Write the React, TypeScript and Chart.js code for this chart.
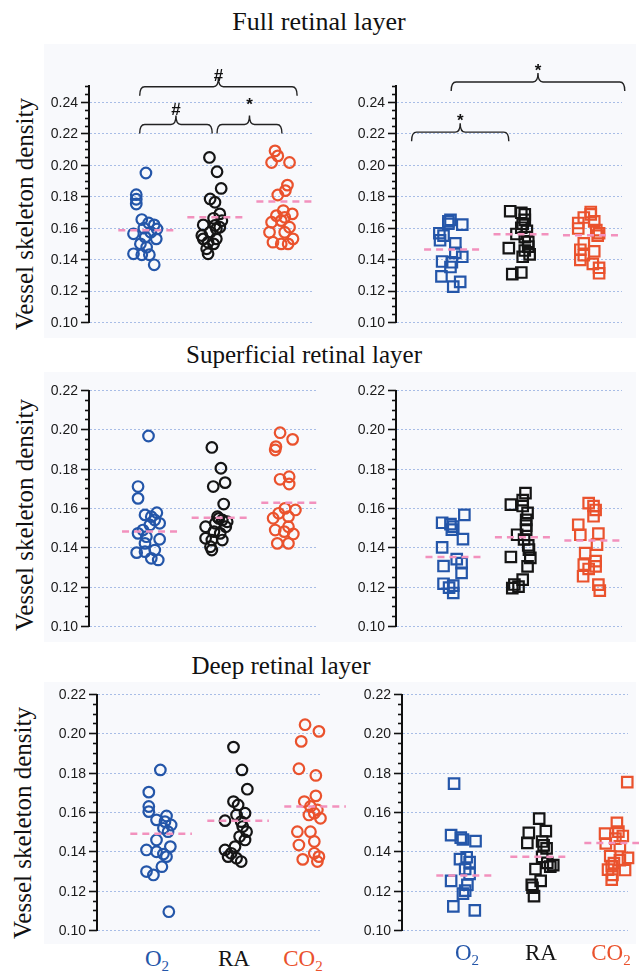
import React, { useEffect, useRef } from 'react';
import { Chart, registerables } from 'chart.js';

Chart.register(...registerables);

// ---------- categories, colours, ticks ----------
const groups = ['O2', 'RA', 'CO2'];
const groupColors = ['#2456a9', '#151515', '#ea522d'];
const meanColor = '#f291bd';
const yTicksFull = [0.1, 0.12, 0.14, 0.16, 0.18, 0.2, 0.22, 0.24];
const yTicksLayer = [0.1, 0.12, 0.14, 0.16, 0.18, 0.2, 0.22];
const minorStep = 0.005;
const yAxisTitle = 'Vessel skeleton density';
const rowTitles = ['Full retinal layer', 'Superficial retinal layer', 'Deep retinal layer'];

// ---------- Full retinal layer (circles) ----------
const fullCircO2 = [0.1948, 0.181, 0.1781, 0.1751, 0.1652, 0.163, 0.1618, 0.1592, 0.1597, 0.1561, 0.1571, 0.1529, 0.154, 0.1497, 0.1434, 0.1428, 0.1428, 0.1364, 0.1476];
const fullCircO2Jit = [0, -0.14, -0.14, -0.14, -0.06, 0.04, 0.12, 0.16, -0.03, -0.18, 0.07, 0.15, -0.01, -0.08, -0.18, -0.06, 0.05, 0.12, 0.01];
const fullCircRA = [0.2047, 0.1956, 0.185, 0.1783, 0.1762, 0.1688, 0.1645, 0.166, 0.1614, 0.1618, 0.1603, 0.1571, 0.155, 0.1529, 0.1529, 0.1508, 0.1497, 0.1466, 0.1434, 0.1592];
const fullCircRAJit = [-0.08, 0.03, 0.09, -0.07, 0, 0.07, 0.1, -0.02, 0, -0.17, 0.07, -0.07, -0.19, -0.17, 0.02, -0.1, -0.02, -0.12, -0.1, 0.02];
const fullCircCO2 = [0.2089, 0.2057, 0.2015, 0.2015, 0.1871, 0.1836, 0.1808, 0.1709, 0.1688, 0.1677, 0.1666, 0.1645, 0.1635, 0.1603, 0.1571, 0.1571, 0.1529, 0.1508, 0.1497, 0.1497];
const fullCircCO2Jit = [-0.13, -0.09, -0.18, 0.08, 0.05, 0.02, -0.09, -0.01, 0.12, -0.11, 0.01, -0.04, -0.18, 0.08, -0.21, 0.01, 0.13, -0.16, -0.04, 0.06];
const fullCircMeans = [0.1584, 0.1666, 0.1766];

// ---------- Full retinal layer (squares) ----------
const fullSqO2 = [0.165, 0.164, 0.162, 0.1625, 0.1565, 0.155, 0.152, 0.15, 0.144, 0.1415, 0.1385, 0.138, 0.135, 0.129, 0.1255, 0.1225];
const fullSqO2Jit = [-0.02, -0.05, 0.15, -0.05, -0.18, -0.12, -0.17, 0.05, 0.05, 0.15, -0.14, 0, -0.02, -0.15, 0.12, 0.02];
const fullSqRA = [0.1705, 0.1695, 0.1685, 0.165, 0.1625, 0.16, 0.158, 0.156, 0.154, 0.151, 0.148, 0.147, 0.1455, 0.143, 0.1415, 0.1315, 0.1305];
const fullSqRAJit = [-0.16, 0, 0.05, 0.05, 0.02, 0, 0.08, -0.07, 0.05, 0.1, 0.1, -0.18, 0.05, 0.12, 0.02, 0, -0.13];
const fullSqCO2 = [0.17, 0.1685, 0.1665, 0.164, 0.163, 0.1595, 0.1585, 0.1565, 0.155, 0.15, 0.146, 0.145, 0.1425, 0.1395, 0.137, 0.1345, 0.131];
const fullSqCO2Jit = [0, 0, -0.1, 0.05, -0.18, -0.18, 0.08, 0.12, 0.1, -0.1, -0.15, 0.05, -0.1, -0.15, 0.03, 0.12, 0.12];
const fullSqMeans = [0.1461, 0.1558, 0.1552];

// ---------- Superficial retinal layer (circles) ----------
const supCircO2 = [0.1966, 0.1709, 0.1649, 0.1565, 0.1576, 0.1556, 0.1522, 0.1539, 0.1514, 0.1471, 0.1454, 0.1441, 0.142, 0.1373, 0.1378, 0.1386, 0.1344, 0.1336, 0.1488];
const supCircO2Jit = [-0.02, -0.17, -0.17, -0.07, 0.1, 0.02, 0.14, 0.07, 0, -0.17, -0.05, 0.14, -0.07, -0.19, -0.07, 0.07, 0.02, 0.12, -0.1];
const supCircRA = [0.1908, 0.1802, 0.1709, 0.1729, 0.162, 0.1556, 0.1539, 0.153, 0.1522, 0.1505, 0.148, 0.1471, 0.1446, 0.1437, 0.1437, 0.1403, 0.1386, 0.1547, 0.1505];
const supCircRAJit = [-0.11, 0.02, -0.09, 0.08, 0.06, -0.03, 0.04, 0.11, -0.06, -0.2, -0.08, 0.01, -0.2, -0.11, 0.04, -0.13, -0.11, -0.01, 0.09];
const supCircCO2 = [0.1983, 0.1949, 0.1912, 0.1895, 0.1746, 0.1759, 0.1722, 0.159, 0.1598, 0.1573, 0.1548, 0.1556, 0.1488, 0.1505, 0.1468, 0.148, 0.142, 0.142];
const supCircCO2Jit = [-0.13, 0.05, -0.19, -0.2, -0.13, 0, 0, 0.09, -0.06, -0.15, -0.23, -0.01, -0.2, -0.01, 0.06, -0.07, -0.17, -0.01];
const supCircMeans = [0.148, 0.1551, 0.1627];

// ---------- Superficial retinal layer (squares) ----------
const supSqO2 = [0.1565, 0.1525, 0.1518, 0.1505, 0.149, 0.1442, 0.14, 0.134, 0.132, 0.1305, 0.127, 0.1215, 0.1205, 0.1195, 0.1168];
const supSqO2Jit = [0.16, -0.16, -0.04, 0, -0.02, 0.14, -0.16, 0.05, 0.12, -0.14, 0.12, -0.14, 0, -0.06, 0];
const supSqRA = [0.1676, 0.164, 0.1617, 0.161, 0.1575, 0.154, 0.151, 0.149, 0.1464, 0.144, 0.141, 0.1388, 0.1351, 0.1346, 0.1303, 0.1236, 0.1211, 0.12, 0.1193];
const supSqRAJit = [0.04, 0, -0.17, 0, 0.07, 0.05, 0.05, 0.05, -0.08, 0.02, 0.08, 0.09, -0.17, 0.11, 0.07, 0, -0.12, -0.06, -0.15];
const supSqCO2 = [0.1625, 0.161, 0.159, 0.1558, 0.1515, 0.147, 0.1464, 0.1414, 0.1371, 0.133, 0.1312, 0.1303, 0.129, 0.1253, 0.121, 0.118];
const supSqCO2Jit = [-0.05, 0.02, 0.05, 0.02, -0.2, 0.09, -0.17, 0.07, -0.1, 0.05, -0.12, 0.05, -0.05, -0.13, 0.09, 0.11];
const supSqMeans = [0.1351, 0.1451, 0.1435];

// ---------- Deep retinal layer (circles) ----------
const deepCircO2 = [0.1814, 0.1701, 0.1628, 0.1602, 0.156, 0.158, 0.1551, 0.1534, 0.1517, 0.15, 0.1458, 0.1424, 0.1407, 0.1398, 0.1386, 0.1373, 0.1322, 0.1297, 0.128, 0.1093];
const deepCircO2Jit = [-0.01, -0.16, -0.16, -0.16, -0.06, 0.07, 0.05, 0.13, 0.03, 0.09, -0.06, 0.12, -0.19, -0.06, 0.03, 0.07, 0.01, -0.19, -0.1, 0.1];
const deepCircRA = [0.193, 0.1814, 0.1716, 0.1653, 0.1636, 0.1556, 0.1594, 0.1585, 0.1551, 0.1526, 0.15, 0.1475, 0.1458, 0.1407, 0.139, 0.1373, 0.1365, 0.1348, 0.1424];
const deepCircRAJit = [-0.06, 0.05, 0.12, -0.06, 0, -0.17, 0.09, -0.02, 0.04, 0.06, 0.11, 0.02, 0.09, -0.17, -0.09, -0.13, -0.02, 0.04, -0.04];
const deepCircCO2 = [0.2044, 0.201, 0.1959, 0.182, 0.1786, 0.1682, 0.1653, 0.1628, 0.1611, 0.1585, 0.1568, 0.1594, 0.15, 0.15, 0.145, 0.1432, 0.139, 0.1359, 0.1373, 0.1348];
const deepCircCO2Jit = [-0.13, 0.05, -0.18, -0.21, 0.01, 0.01, -0.14, -0.06, 0.03, -0.08, 0.07, -0.01, -0.23, -0.06, -0.01, -0.21, -0.01, -0.16, 0.05, 0.03];
const deepCircMeans = [0.1489, 0.1555, 0.1628];

// ---------- Deep retinal layer (squares) ----------
const deepSqO2 = [0.1744, 0.1482, 0.147, 0.146, 0.1452, 0.137, 0.136, 0.1345, 0.131, 0.1285, 0.125, 0.123, 0.12, 0.1185, 0.112, 0.11];
const deepSqO2Jit = [-0.16, -0.2, -0.07, -0.04, 0.13, 0.01, -0.08, 0.05, -0.01, 0.05, -0.2, 0.02, -0.01, -0.04, -0.17, 0.12];
const deepSqRA = [0.1566, 0.1503, 0.1494, 0.145, 0.1443, 0.143, 0.1415, 0.1372, 0.1341, 0.133, 0.1322, 0.131, 0.125, 0.123, 0.1215, 0.1172];
const deepSqRAJit = [-0.01, 0.08, -0.15, 0.03, -0.17, 0.05, 0.09, 0.03, 0.1, 0.18, 0.14, -0.06, 0.01, -0.11, -0.1, -0.08];
const deepSqCO2 = [0.1752, 0.1545, 0.15, 0.149, 0.1478, 0.1465, 0.144, 0.1426, 0.1375, 0.1367, 0.1355, 0.134, 0.1325, 0.1307, 0.1305, 0.128, 0.1256];
const deepSqCO2Jit = [0.18, 0.04, 0.06, -0.12, 0.12, 0.02, -0.11, 0.08, -0.05, 0.19, 0.08, 0, -0.03, -0.08, 0.15, -0.02, -0.03];
const deepSqMeans = [0.1277, 0.1372, 0.1442];

type Bracket = { x1: number; x2: number; y: number; label: string; gap: number };
type Box = [number, number, number, number];

type PanelProps = {
  canvasBox: Box;
  area: Box;
  xMin: number;
  xMax: number;
  yMax: number;
  yTicks: number[];
  values: number[][];
  jitter: number[][];
  means: number[];
  square: boolean;
  brackets?: Bracket[];
};

const SANS = '"Liberation Sans", Arial, Helvetica, sans-serif';
const SERIF = '"Liberation Serif", "Times New Roman", Times, serif';

function Panel(p: PanelProps) {
  const ref = useRef<HTMLCanvasElement>(null);
  const [cl, ct, cr, cb] = p.canvasBox;
  const [al, at, ar, ab] = p.area;
  useEffect(() => {
    const datasets: any[] = [];
    p.values.forEach((vals, g) => {
      datasets.push({
        data: vals.map((v, i) => ({ x: g + p.jitter[g][i], y: v })),
        pointStyle: p.square ? 'rect' : 'circle',
        pointRadius: p.square ? 7.4 : 5.3,
        pointBorderWidth: 2.2,
        pointBorderColor: groupColors[g],
        pointBackgroundColor: 'rgba(0,0,0,0)',
        borderColor: groupColors[g],
        backgroundColor: 'rgba(0,0,0,0)',
        showLine: false,
        clip: false,
        order: 2,
      });
    });
    p.means.forEach((m, g) => {
      datasets.push({
        data: [
          { x: g - 0.4, y: m },
          { x: g + 0.4, y: m },
        ],
        showLine: true,
        borderColor: meanColor,
        borderWidth: 2.5,
        borderDash: [7, 5],
        pointRadius: 0,
        clip: false,
        order: 1,
      });
    });

    const axisPlugin = {
      id: 'axisPlugin',
      beforeDatasetsDraw(chart: any) {
        const ctx = chart.ctx;
        const ys = chart.scales.y;
        const a = chart.chartArea;
        ctx.save();
        ctx.strokeStyle = '#a8bde6';
        ctx.lineWidth = 1;
        ctx.setLineDash([2, 2]);
        p.yTicks.forEach((t) => {
          const py = Math.round(ys.getPixelForValue(t)) + 0.5;
          ctx.beginPath();
          ctx.moveTo(a.left, py);
          ctx.lineTo(a.right, py);
          ctx.stroke();
        });
        ctx.restore();
      },
      afterDraw(chart: any) {
        const ctx = chart.ctx;
        const ys = chart.scales.y;
        const xs = chart.scales.x;
        const a = chart.chartArea;
        ctx.save();
        ctx.setLineDash([]);
        ctx.strokeStyle = '#111';
        // axis line
        ctx.lineWidth = 2;
        ctx.beginPath();
        ctx.moveTo(a.left - 1, a.top);
        ctx.lineTo(a.left - 1, a.bottom + 1);
        ctx.stroke();
        // ticks
        ctx.lineWidth = 1.6;
        const n = Math.floor((p.yMax - 0.1) / minorStep + 1e-6);
        for (let k = 0; k <= n; k++) {
          const v = 0.1 + k * minorStep;
          const py = Math.round(ys.getPixelForValue(v)) + 0.5;
          const len = k % 4 === 0 ? 8 : 4;
          ctx.beginPath();
          ctx.moveTo(a.left - 1, py);
          ctx.lineTo(a.left - 1 - len, py);
          ctx.stroke();
        }
        // labels
        ctx.fillStyle = '#1a1a1a';
        ctx.font = '14px ' + SANS;
        ctx.textAlign = 'right';
        ctx.textBaseline = 'middle';
        p.yTicks.forEach((t) => {
          ctx.fillText(t.toFixed(2), a.left - 12, ys.getPixelForValue(t) + 1);
        });
        // significance brackets
        (p.brackets || []).forEach((b) => {
          const x1 = xs.getPixelForValue(b.x1);
          const x2 = xs.getPixelForValue(b.x2);
          const yl = ys.getPixelForValue(b.y);
          const mid = (x1 + x2) / 2;
          const r = 5;
          ctx.strokeStyle = '#222';
          ctx.lineWidth = 1.4;
          ctx.beginPath();
          ctx.moveTo(x1, yl + 9);
          ctx.quadraticCurveTo(x1, yl, x1 + r, yl);
          ctx.lineTo(mid - r, yl);
          ctx.quadraticCurveTo(mid, yl, mid, yl - 9);
          ctx.quadraticCurveTo(mid, yl, mid + r, yl);
          ctx.lineTo(x2 - r, yl);
          ctx.quadraticCurveTo(x2, yl, x2, yl + 9);
          ctx.stroke();
          ctx.fillStyle = '#111';
          ctx.font = 'bold 17px ' + SANS;
          ctx.textAlign = 'center';
          ctx.textBaseline = 'alphabetic';
          ctx.fillText(b.label, mid, yl - 9 - b.gap);
        });
        ctx.restore();
      },
    };

    const chart = new Chart(ref.current as HTMLCanvasElement, {
      type: 'scatter',
      data: { datasets },
      options: {
        animation: false,
        responsive: false,
        events: [],
        layout: { padding: { left: al - cl, top: at - ct, right: cr - ar, bottom: cb - ab } },
        plugins: { legend: { display: false }, tooltip: { enabled: false } },
        scales: {
          x: { type: 'linear', display: false, min: p.xMin, max: p.xMax },
          y: { type: 'linear', display: false, min: 0.1, max: p.yMax },
        },
      } as any,
      plugins: [axisPlugin],
    });
    return () => chart.destroy();
  }, []);
  return (
    <canvas
      ref={ref}
      width={cr - cl}
      height={cb - ct}
      style={{ position: 'absolute', left: cl, top: ct, width: cr - cl, height: cb - ct }}
    />
  );
}

function GroupLabel({ text, color, x, baseline }: { text: string; color: string; x: number; baseline: number }) {
  const m = text.match(/^(.*?)(\d)$/);
  const main = m ? m[1] : text;
  const sub = m ? m[2] : '';
  return (
    <div
      style={{
        position: 'absolute',
        left: x,
        top: baseline - 19.5,
        transform: 'translateX(-50%)',
        fontFamily: SERIF,
        fontSize: 23,
        lineHeight: '23px',
        color,
        whiteSpace: 'nowrap',
      }}
    >
      {main}
      {sub && <span style={{ fontSize: 15, position: 'relative', top: 5 }}>{sub}</span>}
    </div>
  );
}

function Title({ text, x, baseline, size }: { text: string; x: number; baseline: number; size: number }) {
  return (
    <div
      style={{
        position: 'absolute',
        left: x,
        top: baseline - size * 0.837,
        transform: 'translateX(-50%)',
        fontFamily: SERIF,
        fontSize: size,
        lineHeight: size + 'px',
        color: '#111',
        whiteSpace: 'nowrap',
        background: '#fff',
        padding: '0 6px',
      }}
    >
      {text}
    </div>
  );
}

function YTitle({ cx, cy }: { cx: number; cy: number }) {
  return (
    <div
      style={{
        position: 'absolute',
        left: cx,
        top: cy,
        transform: 'translate(-50%, -50%) rotate(-90deg)',
        fontFamily: SERIF,
        fontSize: 25,
        lineHeight: '25px',
        color: '#111',
        whiteSpace: 'nowrap',
      }}
    >
      {yAxisTitle}
    </div>
  );
}

function Tint({ box }: { box: Box }) {
  return (
    <div
      style={{
        position: 'absolute',
        left: box[0],
        top: box[1],
        width: box[2] - box[0],
        height: box[3] - box[1],
        background: '#f8f9fc',
      }}
    />
  );
}

export default function App() {
  const fullTop = 0.1 + (322 - 85) * (0.02 / 31.43);
  return (
    <div style={{ position: 'absolute', left: 0, top: 0, width: 639, height: 971, background: '#fff', overflow: 'hidden' }}>
      <Tint box={[44, 44, 334, 338]} />
      <Tint box={[334, 44, 636, 338]} />
      <Tint box={[44, 372, 334, 642]} />
      <Tint box={[334, 372, 636, 642]} />
      <Tint box={[44, 682, 334, 944]} />
      <Tint box={[334, 682, 636, 944]} />

      <Panel
        canvasBox={[40, 40, 345, 335]}
        area={[90, 85, 313, 322]}
        xMin={-0.81}
        xMax={2.42}
        yMax={fullTop}
        yTicks={yTicksFull}
        values={[fullCircO2, fullCircRA, fullCircCO2]}
        jitter={[fullCircO2Jit, fullCircRAJit, fullCircCO2Jit]}
        means={fullCircMeans}
        square={false}
        brackets={[
          { x1: -0.09, x2: 2.19, y: 0.2497, label: '#', gap: -3 },
          { x1: -0.09, x2: 0.96, y: 0.2257, label: '#', gap: 0 },
          { x1: 1.03, x2: 1.97, y: 0.2257, label: '*', gap: 5 },
        ]}
      />
      <Panel
        canvasBox={[340, 40, 639, 335]}
        area={[397, 85, 622, 322]}
        xMin={-0.79}
        xMax={2.45}
        yMax={fullTop}
        yTicks={yTicksFull}
        values={[fullSqO2, fullSqRA, fullSqCO2]}
        jitter={[fullSqO2Jit, fullSqRAJit, fullSqCO2Jit]}
        means={fullSqMeans}
        square={true}
        brackets={[
          { x1: -0.01, x2: 2.49, y: 0.2527, label: '*', gap: -3 },
          { x1: -0.58, x2: 0.82, y: 0.2208, label: '*', gap: -3 },
        ]}
      />
      <Panel
        canvasBox={[40, 375, 345, 640]}
        area={[90, 390, 317, 626]}
        xMin={-0.86}
        xMax={2.4}
        yMax={0.22}
        yTicks={yTicksLayer}
        values={[supCircO2, supCircRA, supCircCO2]}
        jitter={[supCircO2Jit, supCircRAJit, supCircCO2Jit]}
        means={supCircMeans}
        square={false}
      />
      <Panel
        canvasBox={[340, 375, 639, 640]}
        area={[397, 390, 622, 626]}
        xMin={-0.81}
        xMax={2.43}
        yMax={0.22}
        yTicks={yTicksLayer}
        values={[supSqO2, supSqRA, supSqCO2]}
        jitter={[supSqO2Jit, supSqRAJit, supSqCO2Jit]}
        means={supSqMeans}
        square={true}
      />
      <Panel
        canvasBox={[40, 680, 360, 940]}
        area={[98, 694, 322, 930]}
        xMin={-0.82}
        xMax={2.09}
        yMax={0.22}
        yTicks={yTicksLayer}
        values={[deepCircO2, deepCircRA, deepCircCO2]}
        jitter={[deepCircO2Jit, deepCircRAJit, deepCircCO2Jit]}
        means={deepCircMeans}
        square={false}
      />
      <Panel
        canvasBox={[340, 680, 639, 940]}
        area={[403, 694, 628, 930]}
        xMin={-0.85}
        xMax={2.19}
        yMax={0.22}
        yTicks={yTicksLayer}
        values={[deepSqO2, deepSqRA, deepSqCO2]}
        jitter={[deepSqO2Jit, deepSqRAJit, deepSqCO2Jit]}
        means={deepSqMeans}
        square={true}
      />

      <Title text={rowTitles[0]} x={319} baseline={31} size={26} />
      <Title text={rowTitles[1]} x={304} baseline={363} size={25} />
      <Title text={rowTitles[2]} x={281} baseline={674} size={25} />

      <YTitle cx={24} cy={214} />
      <YTitle cx={24} cy={515} />
      <YTitle cx={22} cy={823} />

      {groups.map((g, i) => (
        <GroupLabel key={'l' + g} text={g} color={groupColors[i]} x={[157, 234, 303][i]} baseline={966} />
      ))}
      {groups.map((g, i) => (
        <GroupLabel key={'r' + g} text={g} color={groupColors[i]} x={[467, 541, 611][i]} baseline={960} />
      ))}
    </div>
  );
}
